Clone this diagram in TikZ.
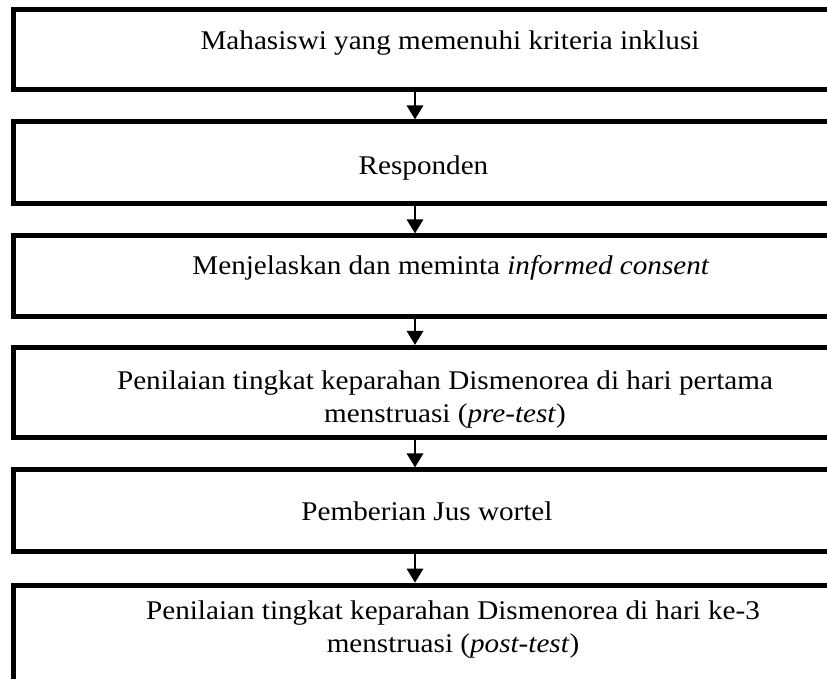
\documentclass[tikz,border=0pt]{standalone}
\usepackage{fontspec}
\setmainfont[FakeStretch=1.08]{Liberation Serif}
\usetikzlibrary{arrows.meta}

\begin{document}
\begin{tikzpicture}[x=0.5pt, y=-0.5pt, >={Triangle[width=8pt,length=7pt]}]
	\tikzstyle{box}=[rectangle, draw=black, line width=2.5pt, minimum width=418.25pt, inner sep=0pt]
	\tikzstyle{txt}=[anchor=base, align=center, inner sep=0pt, font=\fontsize{13.5}{16.5}\selectfont]
	\tikzstyle{connect}=[->, line width=1.4pt]

	\useasboundingbox (0,0) rectangle (827,679);

	% boxes
	\node[box, minimum height=40pt] (b1) at (431.75,50) {};
	\node[box, minimum height=41pt] (b2) at (431.75,163) {};
	\node[box, minimum height=40.5pt] (b3) at (431.75,276.5) {};
	\node[box, minimum height=45.25pt] (b4) at (431.75,392.75) {};
	\node[box, minimum height=41pt] (b5) at (431.75,511) {};
	\node[box, minimum height=57.5pt] (b6) at (431.75,642.75) {};

	% texts
	\node[txt] (t1) at (450,49.3) {Mahasiswi yang memenuhi kriteria inklusi};
	\node[txt] (t2) at (423.5,174.3) {Responden};
	\node[txt] (t3) at (451,274.3) {Menjelaskan dan meminta \textit{informed consent}};
	\node[txt] (t4) at (445,422.7) {Penilaian tingkat keparahan Dismenorea di hari pertama\\menstruasi (\textit{pre-test})};
	\node[txt] (t5) at (427,521) {Pemberian Jus wortel};
	\node[txt] (t6) at (453,653) {Penilaian tingkat keparahan Dismenorea di hari ke-3\\menstruasi (\textit{post-test})};

	\coordinate (ax) at (415,0);

	\path (b1.south -| ax) edge [connect] (b2.north -| ax)
	(b2.south -| ax) edge [connect] (b3.north -| ax)
	(b3.south -| ax) edge [connect] (b4.north -| ax)
	(b4.south -| ax) edge [connect] (b5.north -| ax)
	(b5.south -| ax) edge [connect] (b6.north -| ax);

\end{tikzpicture}
\end{document}
